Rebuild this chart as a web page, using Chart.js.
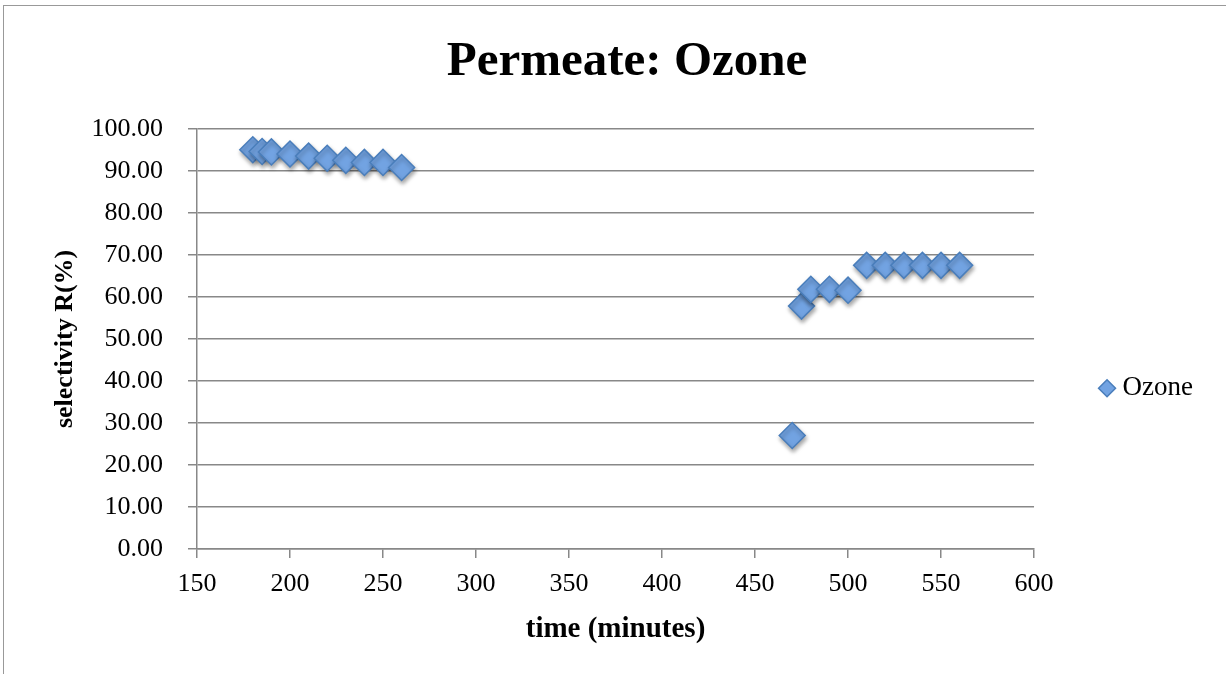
<!DOCTYPE html>
<html>
<head>
<meta charset="utf-8">
<script src="https://cdn.jsdelivr.net/npm/chart.js@4/dist/chart.umd.min.js"></script>
<style>
  html, body { margin: 0; padding: 0; background: #fff; }
  #wrap { position: relative; width: 1226px; height: 674px; }
  #frame { position: absolute; left: 3px; top: 5px; right: -10px; bottom: -10px; border-top: 1.5px solid #999; border-left: 1.5px solid #999; }
  canvas { position: absolute; left: 0; top: 0; }
</style>
</head>
<body>
<div id="wrap">
  <div id="frame"></div>
  <canvas id="chart" width="1226" height="674"></canvas>
</div>
<script>
const seriesName = 'Ozone';
const timeMinutes = [180, 185, 190, 200, 210, 220, 230, 240, 250, 260,
                     470, 475, 480, 490, 500, 510, 520, 530, 540, 550, 560];
const selectivity = [95.0, 94.6, 94.5, 94.0, 93.5, 93.0, 92.5, 92.0, 92.0, 90.8,
                     27.0, 57.8, 61.8, 61.8, 61.6, 67.5, 67.5, 67.5, 67.5, 67.5, 67.5];

const serif = "'Liberation Serif', 'DejaVu Serif', serif";

// soft drop shadow under the markers, like the office chart
const shadowPlugin = {
  id: 'markerShadow',
  beforeDatasetsDraw(chart) {
    const ctx = chart.ctx;
    ctx.save();
    ctx.shadowColor = 'rgba(0,0,0,0.35)';
    ctx.shadowBlur = 4;
    ctx.shadowOffsetX = 1;
    ctx.shadowOffsetY = 3;
  },
  afterDatasetsDraw(chart) {
    chart.ctx.restore();
  }
};

const points = timeMinutes.map((t, i) => ({ x: t, y: selectivity[i] }));

new Chart(document.getElementById('chart'), {
  type: 'scatter',
  data: {
    datasets: [{
      label: seriesName,
      data: points,
      pointStyle: 'rectRot',
      pointRadius: 13,
      pointHoverRadius: 13,
      backgroundColor: '#72a3e2',
      borderColor: '#4a7ebb',
      borderWidth: 1.5
    }]
  },
  plugins: [shadowPlugin],
  options: {
    responsive: false,
    animation: false,
    layout: { padding: { left: 51, right: 23, top: 0, bottom: 0 } },
    plugins: {
      title: {
        display: true,
        text: 'Permeate: Ozone',
        color: '#000',
        font: { family: serif, size: 49, weight: 'bold' },
        padding: { top: 33, bottom: 37 }
      },
      legend: {
        position: 'right',
        title: { display: true, text: '', padding: { top: 88, bottom: 0 } },
        labels: {
          usePointStyle: true,
          boxWidth: 4,
          boxHeight: 12,
          padding: 71,
          color: '#000',
          font: { family: serif, size: 27 }
        }
      },
      tooltip: { enabled: false }
    },
    scales: {
      x: {
        type: 'linear',
        min: 150,
        max: 600,
        afterFit: s => { s.height = 125; },
        ticks: {
          stepSize: 50,
          color: '#000',
          padding: 11,
          font: { family: serif, size: 26 }
        },
        grid: {
          drawOnChartArea: false,
          color: '#888',
          lineWidth: 1.5,
          tickLength: 9
        },
        border: { color: '#888', width: 1.5 },
        title: {
          display: true,
          text: 'time (minutes)',
          color: '#000',
          font: { family: serif, size: 29, weight: 'bold' },
          padding: { bottom: 27 }
        }
      },
      y: {
        min: 0,
        max: 100,
        afterFit: s => { s.width = 146; },
        ticks: {
          stepSize: 10,
          color: '#000',
          padding: 25,
          font: { family: serif, size: 26 },
          callback: v => Number(v).toFixed(2)
        },
        grid: {
          color: '#888',
          lineWidth: 1.5,
          tickLength: 9
        },
        border: { color: '#888', width: 1.5 },
        title: {
          display: true,
          text: 'selectivity R(%)',
          color: '#000',
          font: { family: serif, size: 26, weight: 'bold' },
          padding: { top: -1 }
        }
      }
    }
  }
});
</script>
</body>
</html>
